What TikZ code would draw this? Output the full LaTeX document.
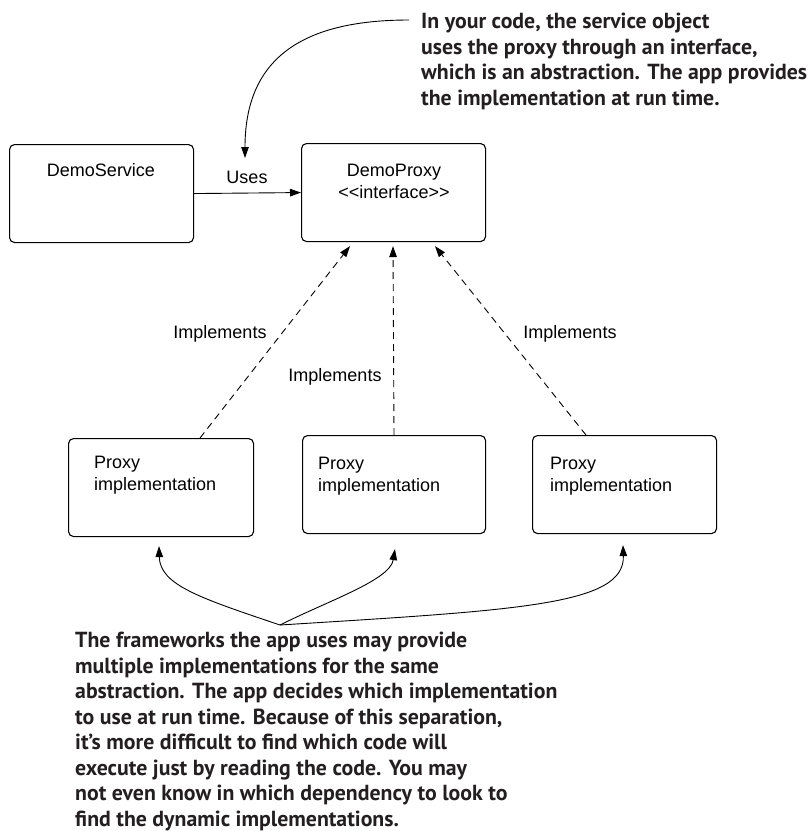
\documentclass[tikz,border=0pt]{standalone}
\usepackage{fontspec}
\setmainfont{Liberation Sans}
\newfontfamily\notefont{PT Sans}
\usetikzlibrary{arrows.meta,calc}
\definecolor{inkdark}{RGB}{35,31,32}
\begin{document}
\begin{tikzpicture}[x=1pt,y=-1pt,
  box/.style={draw=black,line width=1.1pt,rounded corners=5pt,minimum width=184pt,minimum height=98pt,anchor=north west,inner sep=0pt},
  boxtext/.style={font=\fontsize{18}{22}\selectfont,inner sep=0pt,align=left},
  lbl/.style={font=\fontsize{18}{22}\selectfont,inner sep=0pt},
  note/.style={font=\notefont\bfseries\fontsize{21.8}{25.5}\selectfont,text=inkdark,inner sep=0pt,align=left,anchor=north west},
  tri/.style={-{Triangle[length=11pt,width=7.5pt]}},
  conn/.style={line width=0.9pt},
  dsh/.style={line width=0.9pt,dash pattern=on 7pt off 5pt}
]
\useasboundingbox (0,0) rectangle (811,831);
% boxes
\node[box] (ds) at (9,144) {};
\node[box] (dp) at (301,143) {};
\node[box,minimum width=185pt] (p1) at (68,438) {};
\node[box,minimum width=183pt] (p2) at (302,435) {};
\node[box] (p3) at (532,435) {};
% box texts
\node[lbl] (dst) at (101,170) {DemoService};
\node[boxtext,align=center] (dpt) at (394,181) {DemoProxy\\\mbox{<}\mbox{<}interface\mbox{>}\mbox{>}};
\node[boxtext,anchor=west] (p1t) at (94,475) {Proxy\\implementation};
\node[boxtext,anchor=west] (p2t) at (318,476) {Proxy\\implementation};
\node[boxtext,anchor=west] (p3t) at (550,476) {Proxy\\implementation};
% labels
\node[lbl] (uses) at (247,177) {Uses};
\node[lbl] (imp1) at (220,334) {Implements};
\node[lbl] (imp2) at (335,377) {Implements};
\node[lbl] (imp3) at (570,334) {Implements};
% uses arrow
\draw[conn,tri] (ds.east) -- (dp.west);
% dashed implements arrows
\coordinate (s1) at ($(p1.north west)+(132,0)$);
\coordinate (s2) at ($(p2.north west)+(92,0)$);
\coordinate (s3) at ($(p3.north west)+(54,0)$);
\coordinate (t1) at ($(dp.south west)+(49,4)$);
\coordinate (t2) at ($(dp.south west)+(92,4)$);
\coordinate (t3) at ($(dp.south west)+(134,4)$);
\draw[dsh,tri] (s1) -- (t1);
\draw[dsh,tri] (s2) -- (t2);
\draw[dsh,tri] (s3) -- (t3);
% notes
\node[note] (topnote) at (421,13) {In your code, the service object\\uses the proxy through an interface,\\which is an abstraction. The app provides\\the implementation at run time.};
\node[note] (botnote) at (75,632) {The frameworks the app uses may provide\\multiple implementations for the same\\abstraction. The app decides which implementation\\to use at run time. Because of this separation,\\it’s more difficult to find which code will\\execute just by reading the code. You may\\not even know in which dependency to look to\\find the dynamic implementations.};
% top curved arrow
\coordinate (ts) at (409,20);
\coordinate (tt) at (245,158);
\draw[conn,tri] (ts) .. controls (300,20) and (245,60) .. (tt);
% bottom curved arrows
\coordinate (cv) at (280,625);
\coordinate (b1) at ($(p1.south west)+(91,9)$);
\coordinate (b2) at ($(p2.south west)+(93,15)$);
\coordinate (b3) at ($(p3.south west)+(91,11)$);
\draw[conn,tri] (cv) .. controls (200,598) and (160,585) .. (b1);
\draw[conn,tri] (cv) .. controls (330,600) and (390,580) .. (b2);
\draw[conn,tri] (cv) .. controls (520,610) and (625,605) .. (b3);
\end{tikzpicture}
\end{document}
